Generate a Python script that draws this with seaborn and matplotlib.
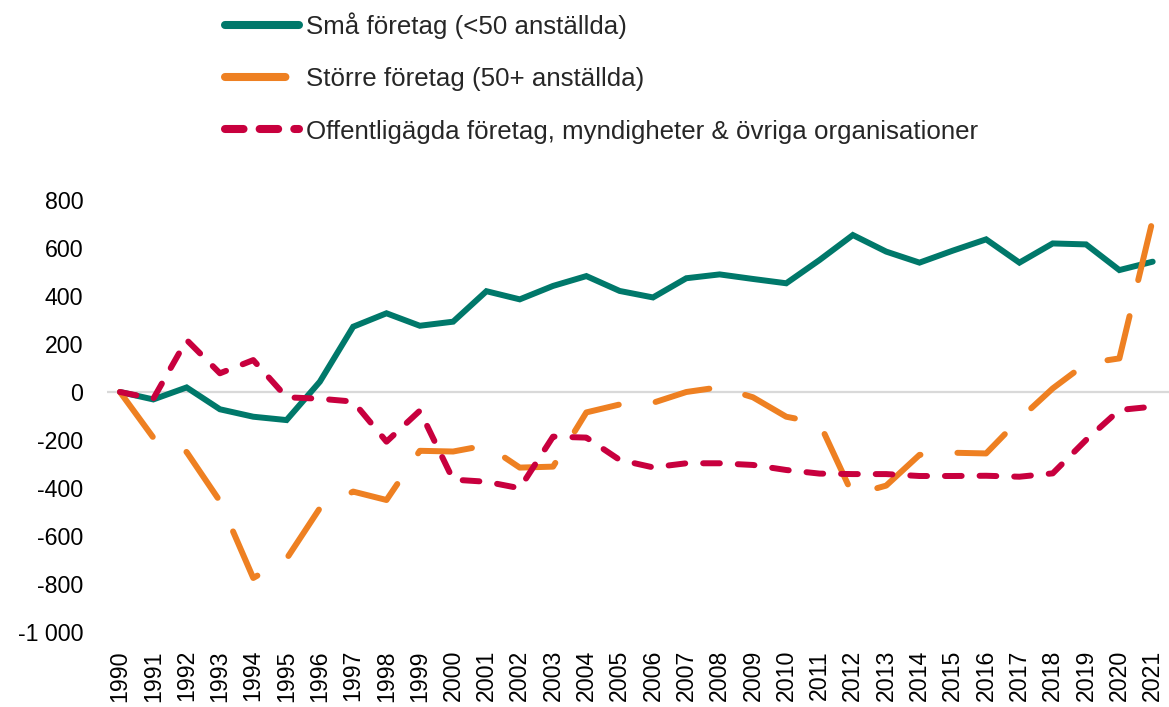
import numpy as np
import pandas as pd
import matplotlib
matplotlib.use("Agg")
import matplotlib.pyplot as plt
from matplotlib.lines import Line2D
from matplotlib.ticker import FuncFormatter
import seaborn as sns

years = list(range(1990, 2022))
sma = [0, -31, 19, -72, -103, -117, 43, 272, 328, 276,
       293, 420, 386, 442, 483, 421, 394, 474, 490, 471,
       453, 550, 654, 585, 539, 589, 636, 539, 619, 615,
       508, 543]
storre = [0, -190, -250, -455, -775, -695, -484, -415, -450, -245,
          -248, -222, -315, -311, -85, -52, -45, 0, 20, -22,
          -103, -130, -429, -390, -262, -253, -256, -113, 15, 119,
          140, 717]
offentliga = [0, -28, 217, 78, 133, -22, -28, -40, -207, -78,
              -365, -374, -401, -186, -190, -283, -314, -297, -297, -304,
              -325, -340, -342, -342, -350, -350, -349, -353, -339, -200,
              -75, -61]
labels = ["Små företag (<50 anställda)",
          "Större företag (50+ anställda)",
          "Offentligägda företag, myndigheter & övriga organisationer"]
colors = ["#00786A", "#EE8022", "#C8003E"]
dash_styles = ["", (9.3, 6.2), (2.8, 3.0)]
legend_dashes = [None, (7.5, 4.0), (2.3, 2.0)]
y_ticks = [800, 600, 400, 200, 0, -200, -400, -600, -800, -1000]

df = pd.DataFrame({
    "year": years * 3,
    "value": sma + storre + offentliga,
    "serie": [labels[0]] * len(years) + [labels[1]] * len(years) + [labels[2]] * len(years),
})

sns.set_theme(style="white")
plt.rcParams["font.family"] = ["Liberation Sans", "DejaVu Sans"]

fig = plt.figure(figsize=(11.69, 7.07), dpi=100)
ax = fig.add_axes([107 / 1169, 1 - 632 / 707, 1 - 107 / 1169, 432 / 707])

ax.axhline(0, color="#D9D9D9", linewidth=1.6, zorder=1)

sns.lineplot(data=df, x="year", y="value", hue="serie", style="serie",
             hue_order=labels, style_order=labels,
             palette=dict(zip(labels, colors)),
             dashes=dict(zip(labels, dash_styles)),
             linewidth=4.3, ax=ax, legend=False,
             solid_capstyle="round", dash_capstyle="round",
             solid_joinstyle="miter", zorder=3)

ax.set_xlim(1989.61, 2021.49)
ax.set_ylim(-1000, 800)
ax.set_xticks(years)
ax.set_xticklabels([str(y) for y in years], rotation=90, fontsize=16.7, color="#000000")
ax.set_yticks(y_ticks)
ax.yaxis.set_major_formatter(FuncFormatter(lambda v, p: f"{int(round(v)):,}".replace(",", " ")))
ax.tick_params(axis="y", length=0, pad=17, labelsize=16.7, labelcolor="#000000")
ax.tick_params(axis="x", length=0, pad=13)
ax.set_xlabel("")
ax.set_ylabel("")
for s in ax.spines.values():
    s.set_visible(False)
ax.grid(False)

handles = [Line2D([0], [0], color=c, linewidth=5.8,
                  linestyle="-" if d is None else (0, d),
                  solid_capstyle="round", dash_capstyle="round")
           for c, d in zip(colors, legend_dashes)]
fig.legend(handles, labels, loc="upper left", bbox_to_anchor=(225 / 1169, 1 - 12 / 707),
           frameon=False, fontsize=18.6, handlelength=2.85, handletextpad=0.3,
           labelspacing=1.1, borderpad=0, borderaxespad=0)

fig.savefig("out.png", dpi=100)
